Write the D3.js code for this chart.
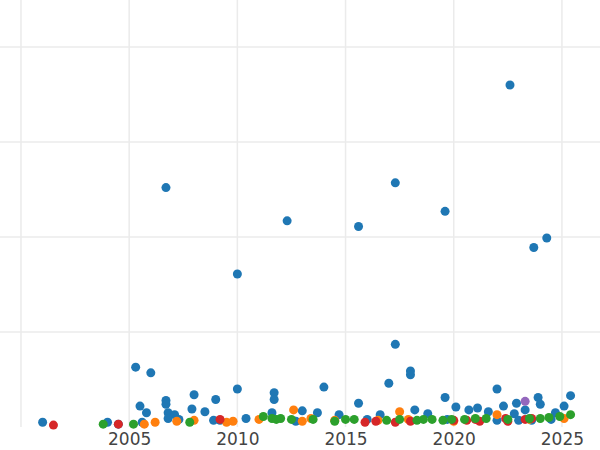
<!DOCTYPE html><html><head><meta charset="utf-8"><script src="https://cdn.jsdelivr.net/npm/d3@7"></script>
<style>body{margin:0;background:#fff}</style></head><body><svg id="c" width="600" height="450"></svg>
<script>
// [year, value] pairs, value in gridline units
const blue=[[2022.6,3.6],[2006.7,2.52],[2017.3,2.57],[2012.3,2.17],[2015.6,2.11],[2019.6,2.27],[2023.7,1.89],[2024.3,1.99],[2010.0,1.61],[2017.3,0.87],[2005.3,0.63],[2006.0,0.57],[2018.0,0.59],[2018.0,0.55],[2017.0,0.46],[2014.0,0.42],[2010.0,0.4],[2011.7,0.36],[2011.7,0.29],[2022.0,0.4],[2025.4,0.33],[2008.0,0.34],[2009.0,0.29],[2006.7,0.28],[2006.7,0.24],[2023.9,0.31],[2019.6,0.31],[2015.6,0.25],[2005.5,0.22],[2022.9,0.25],[2024.0,0.24],[2013.0,0.17],[2005.8,0.15],[2007.9,0.19],[2008.5,0.16],[2013.7,0.15],[2020.1,0.21],[2020.7,0.18],[2021.1,0.2],[2018.2,0.18],[2018.8,0.14],[2021.6,0.16],[2022.3,0.22],[2022.8,0.14],[2023.3,0.18],[2025.1,0.22],[2011.6,0.15],[2014.7,0.13],[2016.6,0.13],[2006.8,0.15],[2007.1,0.13],[2024.7,0.15],[2001,0.05],[2004,0.05],[2004.5,0.03],[2005.6,0.05],[2006.8,0.09],[2007.3,0.08],[2008.9,0.07],[2009.2,0.07],[2010.4,0.09],[2012.7,0.06],[2016.0,0.08],[2019.7,0.08],[2022.0,0.07],[2023,0.07],[2023.6,0.07],[2024.5,0.08]];
const orange=[[2005.7,0.03],[2006.2,0.05],[2007.2,0.06],[2008,0.07],[2009.5,0.05],[2009.8,0.06],[2011,0.08],[2012.6,0.18],[2013,0.06],[2013.4,0.09],[2014.5,0.07],[2017.5,0.16],[2020,0.06],[2022.0,0.13],[2023.5,0.08],[2025.1,0.09],[2017.9,0.08],[2016.5,0.07]];
const red=[[2001.5,0.02],[2004.5,0.03],[2009.2,0.08],[2015.9,0.05],[2016.4,0.06],[2017.3,0.05],[2018.0,0.06],[2020.0,0.07],[2020.6,0.07],[2021,0.08],[2021.2,0.06],[2022.4,0.09],[2022.5,0.06],[2023.3,0.08],[2023.6,0.09]];
const green=[[2003.8,0.03],[2005.2,0.03],[2007.8,0.05],[2011.2,0.11],[2011.6,0.09],[2011.8,0.08],[2012.0,0.09],[2012.5,0.08],[2013.5,0.08],[2014.5,0.06],[2015.0,0.08],[2015.4,0.08],[2016.9,0.07],[2017.5,0.08],[2018.6,0.08],[2019.0,0.08],[2019.5,0.07],[2019.9,0.08],[2020.5,0.08],[2021.5,0.09],[2022.5,0.08],[2023.5,0.09],[2024.0,0.09],[2024.4,0.1],[2024.9,0.11],[2025.4,0.13],[2021.0,0.09],[2018.3,0.07]];
const purple=[[2023.3,0.27]];
const xTicks=[2000,2005,2010,2015,2020,2025];
const yTicks=[0,1,2,3,4];
const series=[[blue,"#1f77b4"],[orange,"#ff7f0e"],[red,"#d62728"],[green,"#2ca02c"],[purple,"#9467bd"]];
const svg=d3.select("#c");
const x=d3.scaleLinear().domain([1999.03,2026.76]).range([0,600]);
const y=d3.scaleLinear().domain([0,4]).range([427,47]);
svg.append("g").selectAll("line").data(xTicks).join("line").attr("x1",d=>x(d)).attr("x2",d=>x(d)).attr("y1",0).attr("y2",427).attr("stroke","#ebebeb").attr("stroke-width",1.5);
svg.append("g").selectAll("line").data(yTicks.slice(1)).join("line").attr("x1",0).attr("x2",600).attr("y1",d=>y(d)).attr("y2",d=>y(d)).attr("stroke","#ebebeb").attr("stroke-width",1.5);
const ax=svg.append("g").attr("transform","translate(0,427)").call(d3.axisBottom(x).tickValues(xTicks.slice(1)).tickFormat(d3.format("d")).tickSize(0).tickPadding(6));
ax.select(".domain").remove();
ax.selectAll("text").attr("font-family","DejaVu Sans").attr("font-size",17).attr("fill","#444");
series.forEach(([d,c])=>svg.append("g").selectAll("circle").data(d).join("circle").attr("cx",p=>x(p[0])).attr("cy",p=>y(p[1])).attr("r",4.5).attr("fill",c));
</script></body></html>
